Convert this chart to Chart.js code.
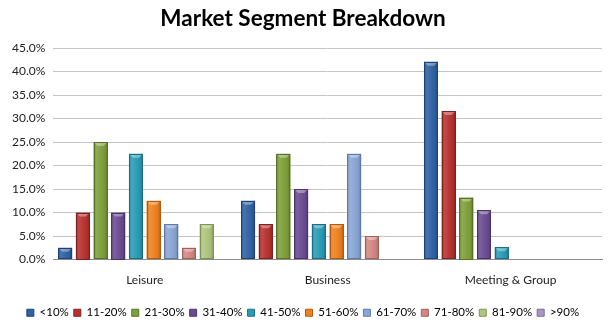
<!DOCTYPE html>
<html>
<head>
<meta charset="utf-8">
<script src="https://cdn.jsdelivr.net/npm/chart.js@4/dist/chart.umd.min.js"></script>
<style>
  html, body { margin: 0; padding: 0; background: #fff; }
  #wrap { width: 612px; height: 327px; }
</style>
</head>
<body>
<div id="wrap"><canvas id="c" width="612" height="327"></canvas></div>
<script>
'use strict';

// ── DATA ───────────────────────────────────────────────────
const CATEGORIES = ['Leisure', 'Business', 'Meeting & Group'];
const SERIES = ['<10%', '11-20%', '21-30%', '31-40%', '41-50%', '51-60%', '61-70%', '71-80%', '81-90%', '>90%'];
const LEISURE = [2.5, 10, 25, 10, 22.5, 12.5, 7.5, 2.5, 7.5, 0];
const BUSINESS = [12.5, 7.5, 22.5, 15, 7.5, 7.5, 22.5, 5, 0, 0];
const MEETING = [42.1, 31.6, 13.2, 10.5, 2.6, 0, 0, 0, 0, 0];
const Y_TICKS = [0, 5, 10, 15, 20, 25, 30, 35, 40, 45];

const COLORS = ['#2F61A3', '#B8312E', '#7EA03A', '#6A4B92', '#2A9BB6', '#F0811F', '#8AA6D6', '#D48783', '#AEC67E', '#A996C4'];
const EDGES  = ['#1E4174', '#802020', '#587227', '#4A3368', '#1C6F83', '#B05A12', '#5F7AA8', '#A0605C', '#7E9556', '#7B6B95'];

// ── PLUGINS ────────────────────────────────────────────────
// fixed legend height so the plot keeps its bottom edge
const legendHeight = {
  id: 'legendHeight',
  beforeInit(chart) {
    const fit = chart.legend.fit;
    chart.legend.fit = function () {
      fit.call(this);
      this.height = 25;
    };
  }
};

const bevel = {
  id: 'bevel',
  afterDatasetsDraw(chart) {
    const ctx = chart.ctx;
    chart.data.datasets.forEach((ds, i) => {
      const meta = chart.getDatasetMeta(i);
      meta.data.forEach(bar => {
        const p = bar.getProps(['x', 'y', 'base', 'width'], true);
        const h = p.base - p.y;
        if (h < 1) return;
        const l = p.x - p.width / 2, r = p.x + p.width / 2;
        const g = ctx.createLinearGradient(l, 0, r, 0);
        g.addColorStop(0, 'rgba(0,0,0,0.15)');
        g.addColorStop(0.2, 'rgba(255,255,255,0.12)');
        g.addColorStop(0.45, 'rgba(255,255,255,0.05)');
        g.addColorStop(0.8, 'rgba(0,0,0,0.05)');
        g.addColorStop(1, 'rgba(0,0,0,0.25)');
        ctx.save();
        ctx.fillStyle = g;
        ctx.fillRect(l, p.y, p.width, h);
        // top cap highlight
        const cap = Math.min(4, h / 2);
        ctx.fillStyle = 'rgba(255,255,255,0.35)';
        ctx.beginPath();
        ctx.moveTo(l + 1, p.y + 1);
        ctx.lineTo(r - 1, p.y + 1);
        ctx.lineTo(r - 4, p.y + cap);
        ctx.lineTo(l + 4, p.y + cap);
        ctx.closePath();
        ctx.fill();
        ctx.strokeStyle = ds.borderColor;
        ctx.lineWidth = 1;
        ctx.strokeRect(Math.round(l) + 0.5, Math.round(p.y) + 0.5, Math.round(p.width) - 1, Math.round(h) - 1);
        ctx.restore();
      });
    });
  }
};

// ── CHART ──────────────────────────────────────────────────
const datasets = SERIES.map((name, i) => ({
  label: name,
  data: [LEISURE[i], BUSINESS[i], MEETING[i]],
  backgroundColor: COLORS[i],
  borderColor: EDGES[i],
  borderWidth: 0,
  categoryPercentage: 0.967,
  barPercentage: 0.79
}));

new Chart(document.getElementById('c'), {
  type: 'bar',
  data: { labels: CATEGORIES, datasets },
  plugins: [legendHeight, bevel],
  options: {
    responsive: false,
    animation: false,
    layout: { padding: { left: 4, right: 10, top: 0, bottom: 0 } },
    plugins: {
      title: {
        display: true,
        text: 'Market Segment Breakdown',
        color: '#000',
        font: { family: 'Lato', size: 22.5, weight: 'bold' },
        padding: { top: 5, bottom: 16 }
      },
      legend: {
        position: 'bottom',
        labels: {
          boxWidth: 7,
          boxHeight: 7,
          padding: 5,
          color: '#222',
          font: { family: 'Lato', size: 11.5 },
          generateLabels: chart => chart.data.datasets.map((ds, i) => ({
            text: ds.label,
            fillStyle: ds.backgroundColor,
            strokeStyle: ds.borderColor,
            lineWidth: 1,
            datasetIndex: i
          }))
        }
      },
      tooltip: { enabled: false }
    },
    scales: {
      x: {
        grid: { display: false, drawTicks: false },
        border: { color: '#8c8c8c' },
        ticks: { color: '#222', font: { family: 'Lato', size: 12 }, padding: 13 },
        afterFit: axis => { axis.height += 2; }
      },
      y: {
        min: 0,
        max: 45,
        afterBuildTicks: axis => { axis.ticks = Y_TICKS.map(v => ({ value: v })); },
        grid: { color: '#c4c4c4', drawTicks: false },
        border: { display: false },
        ticks: {
          color: '#222',
          font: { family: 'Lato', size: 12 },
          padding: 8,
          callback: v => v.toFixed(1) + '%'
        }
      }
    }
  }
});
</script>
</body>
</html>
